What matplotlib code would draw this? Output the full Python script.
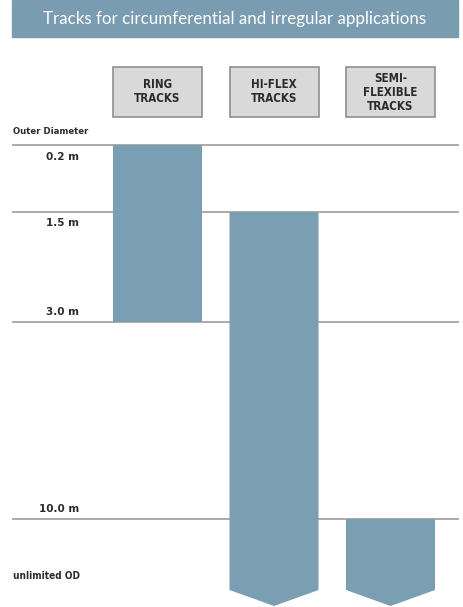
import matplotlib.pyplot as plt
from matplotlib.patches import Polygon, Rectangle

# data
levels = ['0.2 m', '1.5 m', '3.0 m', '10.0 m', 'unlimited OD']
tracks = ['RING\nTRACKS', 'HI-FLEX\nTRACKS', 'SEMI-\nFLEXIBLE\nTRACKS']
track_start = ['0.2 m', '1.5 m', '10.0 m']
track_end = ['3.0 m', 'unlimited OD', 'unlimited OD']
title = 'Tracks for circumferential and irregular applications'

# layout (figure pixels, y downwards)
level_y = {'0.2 m': 145, '1.5 m': 212, '3.0 m': 322, '10.0 m': 519, 'unlimited OD': 590}
label_off = {'0.2 m': 12, '1.5 m': 11, '3.0 m': -10, '10.0 m': -10, 'unlimited OD': -14}
col_x0 = 113
col_step = 116.5
col_w = 89
arrow_tip = 606

BLUE = '#7b9fb2'
LINE = '#a8a19f'
BOX = '#d9d9d9'
TXT = '#2b2b2b'

fig = plt.figure(figsize=(4.63, 6.07), dpi=100)
ax = fig.add_axes([0, 0, 1, 1])
ax.set_xlim(0, 463)
ax.set_ylim(607, 0)
ax.axis('off')

# banner
ax.add_patch(Rectangle((12, 0), 446, 37, color='#7a9cb0', zorder=1))
ax.text(235, 19, title, color='white', fontsize=12.2, ha='center', va='center',
        family='Lato')

# header boxes
for i, name in enumerate(tracks):
    x = col_x0 + i * col_step
    ax.add_patch(Rectangle((x, 67), col_w, 50, facecolor=BOX, edgecolor='#8f8f8f',
                           linewidth=1.2, zorder=2))
    ax.text(x + col_w / 2, 92, name, ha='center', va='center', fontsize=8.3,
            fontweight='bold', color=TXT, linespacing=1.1, zorder=3,
            family='DejaVu Sans', fontstretch='condensed')

ax.text(13, 131, 'Outer Diameter', ha='left', va='center', fontsize=6.8,
        fontweight='bold', color=TXT, family='DejaVu Sans', fontstretch='condensed')

# level lines and labels
for lv in levels:
    y = level_y[lv]
    if lv == 'unlimited OD':
        ax.text(13, y + label_off[lv], lv, ha='left', va='center', fontsize=7.2,
                fontweight='bold', color=TXT, family='DejaVu Sans',
                fontstretch='condensed')
        continue
    ax.plot([13, 458], [y, y], color=LINE, linewidth=1.3, zorder=1)
    ax.text(79, y + label_off[lv], lv, ha='right', va='center', fontsize=7.5,
            fontweight='bold', color=TXT, family='DejaVu Sans')

# bars
for i in range(len(tracks)):
    x0 = col_x0 + i * col_step
    x1 = x0 + col_w
    y0 = level_y[track_start[i]]
    y1 = level_y[track_end[i]]
    if track_end[i] == 'unlimited OD':
        pts = [(x0, y0), (x1, y0), (x1, y1), ((x0 + x1) / 2, arrow_tip), (x0, y1)]
    else:
        pts = [(x0, y0), (x1, y0), (x1, y1), (x0, y1)]
    ax.add_patch(Polygon(pts, closed=True, facecolor=BLUE, edgecolor='none', zorder=2))

fig.savefig('out.png', dpi=100)
